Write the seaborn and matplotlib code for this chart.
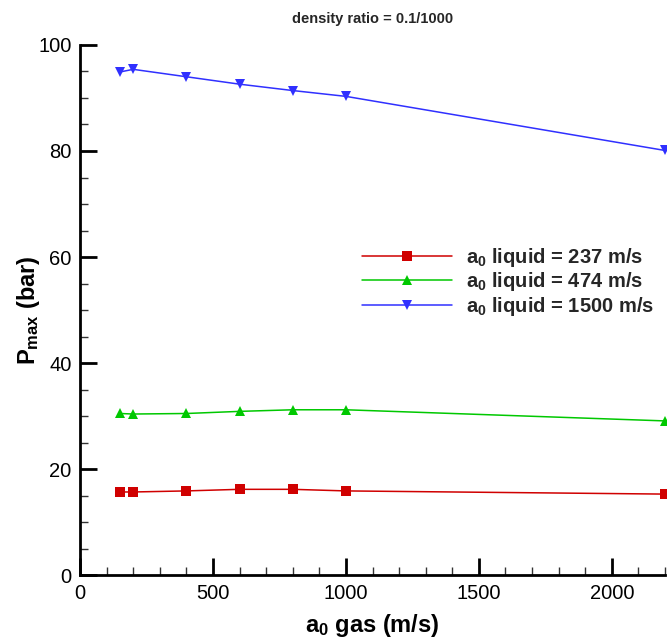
import numpy as np
import pandas as pd
import seaborn as sns
import matplotlib.pyplot as plt
from matplotlib.ticker import MultipleLocator

# Data
a0_gas = [150, 200, 400, 600, 800, 1000, 2200]
p_237 = [15.7, 15.7, 15.9, 16.2, 16.2, 15.9, 15.3]
p_474 = [30.5, 30.4, 30.5, 30.9, 31.2, 31.2, 29.1]
p_1500 = [94.9, 95.4, 94.0, 92.6, 91.4, 90.3, 80.1]
labels = [r"a$_0$ liquid = 237 m/s", r"a$_0$ liquid = 474 m/s", r"a$_0$ liquid = 1500 m/s"]

df = pd.DataFrame({
    'a0_gas': a0_gas * 3,
    'p_max': p_237 + p_474 + p_1500,
    'series': [labels[0]] * 7 + [labels[1]] * 7 + [labels[2]] * 7,
})

sns.set_style("ticks")
plt.rcParams['font.family'] = ['Liberation Sans', 'DejaVu Sans']
plt.rcParams['mathtext.fontset'] = 'custom'
plt.rcParams['mathtext.rm'] = 'Liberation Sans:bold'
plt.rcParams['mathtext.it'] = 'Liberation Sans:bold'
plt.rcParams['mathtext.bf'] = 'Liberation Sans:bold'
plt.rcParams['mathtext.default'] = 'rm'

fig = plt.figure(figsize=(6.67, 6.42), dpi=100)
ax = fig.add_axes([0.12, 0.104, 0.877, 0.826])

colors = ['#d00000', '#00c800', '#3030ff']
sns.lineplot(data=df, x='a0_gas', y='p_max', hue='series', style='series',
             markers=['s', '^', 'v'], dashes=False, palette=colors,
             markersize=7, markeredgewidth=0, linewidth=1.1, ax=ax, clip_on=False)

ax.set_xlim(0, 2200)
ax.set_ylim(0, 100)
ax.xaxis.set_major_locator(MultipleLocator(500))
ax.xaxis.set_minor_locator(MultipleLocator(100))
ax.yaxis.set_major_locator(MultipleLocator(20))
ax.yaxis.set_minor_locator(MultipleLocator(5))
ax.tick_params(which='major', direction='in', length=12, width=2, labelsize=14.5,
               pad=6, color='black', labelcolor='black')
ax.tick_params(which='minor', direction='in', length=6, width=1, color='#333333')
sns.despine(ax=ax)
for s in ['left', 'bottom']:
    ax.spines[s].set_linewidth(2)
    ax.spines[s].set_color('black')

ax.set_xlabel(r"a$_0$ gas (m/s)", fontsize=17, fontweight='bold', color='black', labelpad=7)
ax.set_ylabel(r"P$_{max}$ (bar)", fontsize=17, fontweight='bold', color='black', labelpad=-3)
ax.set_title("density ratio = 0.1/1000", fontsize=10.5, fontweight='bold', pad=16)

leg = ax.legend(loc='center left', bbox_to_anchor=(0.464, 0.553), frameon=False,
                fontsize=14.5, handlelength=4.5, labelspacing=0.08, handletextpad=0.7,
                borderpad=0)
for t in leg.get_texts():
    t.set_fontweight('bold')

fig.savefig("out.png", dpi=100)
